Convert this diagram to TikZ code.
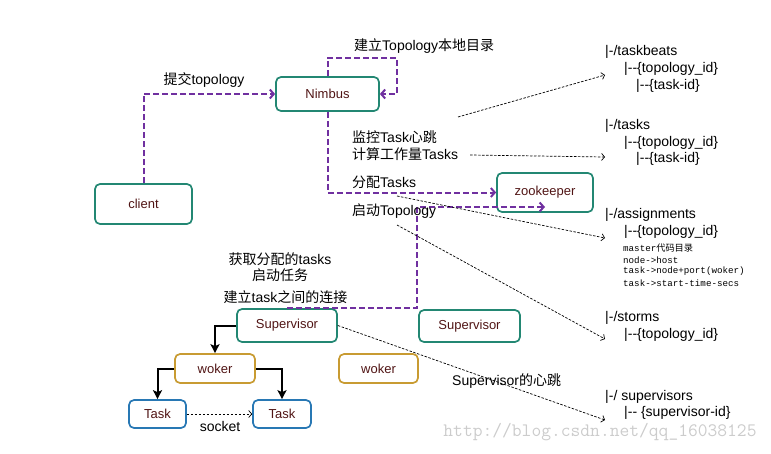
\documentclass[tikz,border=0pt]{standalone}
\usepackage{fontspec}
\setmainfont{Liberation Sans}[Ligatures=TeXOff]
\newfontfamily\cjk{Noto Sans CJK SC}
\newfontfamily\codigo{Liberation Mono}
\usetikzlibrary{arrows.meta}
\definecolor{verde}{RGB}{35,135,115}
\definecolor{oro}{RGB}{200,155,50}
\definecolor{azul}{RGB}{40,120,180}
\definecolor{morado}{RGB}{112,48,160}
\definecolor{rojizo}{RGB}{80,20,20}
\tikzstyle{caja} = [draw=verde, line width=1.7pt, rounded corners=5pt, inner sep=0pt, text=rojizo, font=\fontsize{13}{15}\selectfont]
\tikzstyle{trabajador} = [caja, draw=oro]
\tikzstyle{tarea} = [caja, draw=azul]
\tikzstyle{flujo} = [draw=morado, line width=2pt, dash pattern=on 6pt off 3pt, -{Straight Barb[length=4pt,width=9pt]}]
\tikzstyle{enlace} = [line width=0.7pt, dash pattern=on 2.5pt off 1.5pt, -{Straight Barb[length=3pt,width=7pt]}]
\tikzstyle{rama} = [line width=2pt, -{Stealth[length=9pt,width=9pt,inset=2pt]}]
\tikzstyle{etiqueta} = [inner sep=0pt, font=\fontsize{14}{16}\selectfont]
\tikzstyle{ruta} = [etiqueta, anchor=west]
\tikzstyle{linea} = [inner sep=0pt, anchor=west, font=\codigo\fontsize{9.2}{10}\selectfont]

\begin{document}
\begin{tikzpicture}[x=1pt,y=-1pt]
	\useasboundingbox (0,0) rectangle (771,453);
	% cajas
	\node[caja, minimum width=97pt, minimum height=40pt] (client) at (143.5,204) {client};
	\node[caja, minimum width=103pt, minimum height=34pt] (nimbus) at (327.5,94) {Nimbus};
	\node[caja, minimum width=96pt, minimum height=39pt] (zk) at (545,192.5) {zookeeper};
	\node[caja, minimum width=100pt, minimum height=33pt] (sup1) at (287,325.5) {Supervisor};
	\node[caja, minimum width=101pt, minimum height=32pt] (sup2) at (469.5,326) {Supervisor};
	\node[trabajador, minimum width=80pt, minimum height=29pt] (wok1) at (215,368.5) {woker};
	\node[trabajador, minimum width=79pt, minimum height=29pt] (wok2) at (378.5,368.5) {woker};
	\node[tarea, minimum width=57pt, minimum height=28pt] (task1) at (157.5,414) {Task};
	\node[tarea, minimum width=58pt, minimum height=28pt] (task2) at (282,414) {Task};
	% flujos
	\coordinate (lazo) at (397,58);
	\coordinate (codo) at (417,207);
	\draw[flujo] (client.north) |- (nimbus.west);
	\draw[flujo] (nimbus.north) |- (lazo) |- (nimbus.east);
	\draw[flujo] (nimbus.south) |- (zk.west);
	\draw[flujo] (sup1.north) -| (codo) -- (codo -| zk.center);
	\node[etiqueta] (submit) at (204,80) {{\cjk 提交}topology};
	\node[ruta] (local) at (354,46) {{\cjk 建立}Topology{\cjk 本地目录}};
	\node[ruta] (monitor) at (352,137) {{\cjk 监控}Task{\cjk 心跳}};
	\node[ruta] (calc) at (352,154) {{\cjk 计算工作量}Tasks};
	\node[ruta] (assign) at (352,182) {{\cjk 分配}Tasks};
	\node[ruta] (launch) at (352,211) {{\cjk 启动}Topology};
	\node[etiqueta] (fetch) at (280,259) {{\cjk 获取分配的}tasks};
	\node[etiqueta] (start) at (280,275) {{\cjk 启动任务}};
	\node[etiqueta] (connect) at (285.5,297) {{\cjk 建立}task{\cjk 之间的连接}};
	% ramas
	\draw[rama] (sup1.west) -| (wok1.north);
	\draw[rama] (wok1.west) -| (task1.north);
	\draw[rama] (wok1.east) -| (task2.north);
	\draw[enlace] (task1.east) -- (task2.west);
	\node[etiqueta] (socket) at (220,426) {socket};
	% arbol de zookeeper
	\node[ruta] (taskbeats) at (605,52) {|-/taskbeats};
	\node[ruta] (tbtopo) at (624,69) {|--\{topology\_id\}};
	\node[ruta] (tbtask) at (636,86) {|--\{task-id\}};
	\node[ruta] (tasks) at (605,126) {|-/tasks};
	\node[ruta] (tstopo) at (624,143) {|--\{topology\_id\}};
	\node[ruta] (tstask) at (636,159) {|--\{task-id\}};
	\node[ruta] (assignments) at (605,215) {|-/assignments};
	\node[ruta] (astopo) at (624,232) {|--\{topology\_id\}};
	\node[linea] (master) at (623,248) {master{\cjk 代码目录}};
	\node[linea] (host) at (623,260) {node->host};
	\node[linea] (port) at (623,271.5) {task->node+port(woker)};
	\node[linea] (secs) at (623,283) {task->start-time-secs};
	\node[ruta] (storms) at (605,318) {|-/storms};
	\node[ruta] (sttopo) at (624,335) {|--\{topology\_id\}};
	\node[ruta] (supervisors) at (605,397) {|-/ supervisors};
	\node[ruta] (supid) at (624,413) {|-- \{supervisor-id\}};
	% enlaces
	\coordinate (e1) at (458,117);
	\coordinate (f1) at (605,75);
	\coordinate (e2) at (470,155);
	\coordinate (f2) at (605,157);
	\coordinate (e3) at (397,196);
	\coordinate (f3) at (605,238);
	\coordinate (e4) at (397,225);
	\coordinate (f4) at (605,339);
	\coordinate (f5) at (605,420);
	\draw[enlace] (e1) -- (f1);
	\draw[enlace] (e2) -- (f2);
	\draw[enlace] (e3) -- (f3);
	\draw[enlace] (e4) -- (f4);
	\draw[enlace] (sup1.east) -- (f5);
	\node[ruta] (beat) at (452,381) {Supervisor{\cjk 的心跳}};
	\node[inner sep=0pt, text=gray!40, font=\ttfamily\fontsize{19}{19}\selectfont] (web) at (600,432) {http://blog.csdn.net/qq\_16038125};
\end{tikzpicture}
\end{document}
